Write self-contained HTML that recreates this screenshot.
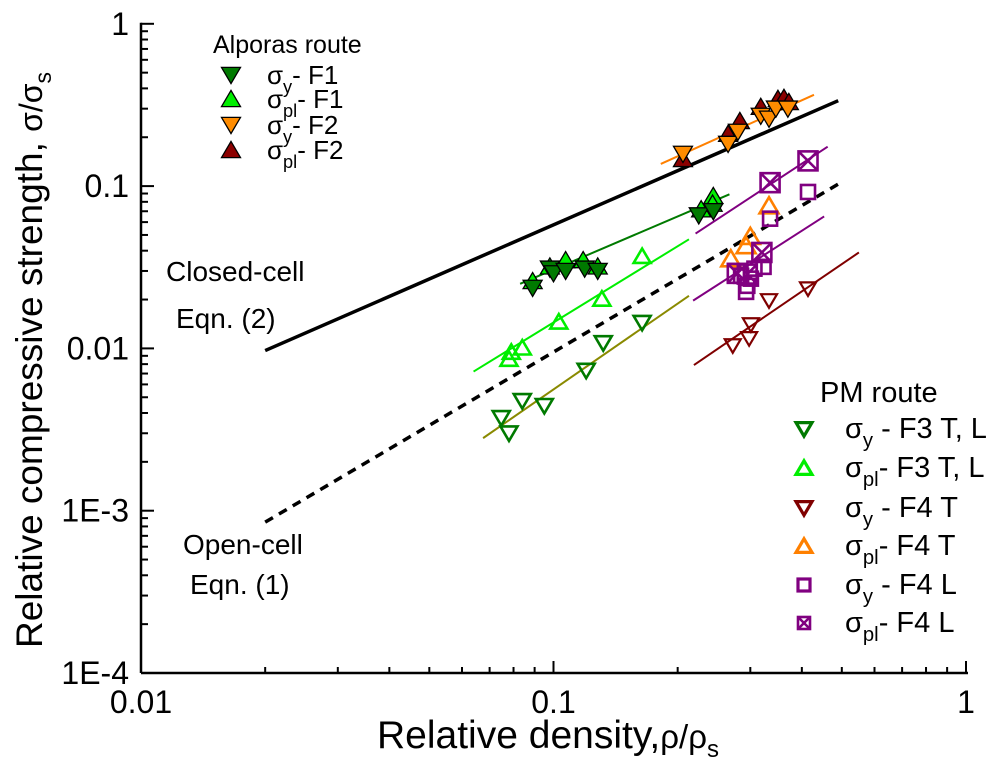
<!DOCTYPE html>
<html><head><meta charset="utf-8"><style>
html,body{margin:0;padding:0;background:#fff;}
svg{display:block;font-family:"Liberation Sans",Arial,sans-serif;}
</style></head><body>
<svg id="chart" width="1000" height="770" viewBox="0 0 1000 770"></svg>
<script>
// ---- data ----
const xTickLabels = ["0.01","0.1","1"];
const xTickValues = [0.01,0.1,1];
const yTickLabels = ["1E-4","1E-3","0.01","0.1","1"];
const yTickValues = [1e-4,1e-3,1e-2,0.1,1];

const f1SyX = [0.089,0.098,0.100,0.107,0.119,0.128,0.225,0.244];
const f1SyY = [0.0236,0.031,0.029,0.030,0.031,0.030,0.066,0.070];
const f1SplX = [0.089,0.098,0.107,0.118,0.128,0.228,0.244,0.243];
const f1SplY = [0.026,0.032,0.035,0.035,0.032,0.072,0.087,0.078];
const f2SyX = [0.206,0.265,0.280,0.318,0.333,0.346,0.370];
const f2SyY = [0.158,0.182,0.216,0.271,0.260,0.300,0.300];
const f2SplX = [0.206,0.265,0.283,0.318,0.350,0.362,0.372];
const f2SplY = [0.147,0.210,0.252,0.308,0.345,0.350,0.330];
const f3SyX = [0.0747,0.078,0.084,0.095,0.120,0.132,0.164];
const f3SyY = [0.00373,0.0030,0.00475,0.00443,0.0073,0.0108,0.0144];
const f3SplX = [0.078,0.079,0.084,0.103,0.131,0.164];
const f3SplY = [0.0086,0.0095,0.0101,0.0146,0.0202,0.037];
const f4TSyX = [0.272,0.298,0.301,0.333,0.414];
const f4TSyY = [0.0104,0.0115,0.0140,0.0197,0.0233];
const f4TSplX = [0.269,0.293,0.300,0.333];
const f4TSplY = [0.0357,0.043,0.049,0.0757];
const f4LSyX = [0.285,0.293,0.295,0.301,0.307,0.323,0.335,0.414];
const f4LSyY = [0.028,0.0223,0.0243,0.0269,0.031,0.0318,0.063,0.092];
const f4LSplX = [0.279,0.295,0.320,0.335,0.414];
const f4LSplY = [0.029,0.0287,0.039,0.105,0.143];

const closedLineX = [0.02,0.49]; const closedLineY = [0.0097,0.336];
const openLineX = [0.02,0.5]; const openLineY = [0.00085,0.106];
const fitF1X = [0.083,0.267]; const fitF1Y = [0.025,0.089];
const fitF2X = [0.182,0.428]; const fitF2Y = [0.137,0.365];
const fitF3plX = [0.064,0.213]; const fitF3plY = [0.0072,0.047];
const fitF3yX = [0.0675,0.213]; const fitF3yY = [0.0028,0.0211];
const fitF4upX = [0.221,0.462]; const fitF4upY = [0.051,0.175];
const fitF4loX = [0.218,0.453]; const fitF4loY = [0.0197,0.065];
const fitF4TX = [0.219,0.55]; const fitF4TY = [0.0079,0.039];

// ---- axes ----
const X0=141, XD=412.5, Y0=673, YD=162.3;
const sx = v => X0 + XD*(Math.log10(v)+2);
const sy = v => Y0 - YD*(Math.log10(v)+4);
const svg = document.getElementById('chart');
const NS='http://www.w3.org/2000/svg';
function mk(tag, attrs, parent){
  const e=document.createElementNS(NS,tag);
  for(const k in attrs) e.setAttribute(k,attrs[k]);
  (parent||svg).appendChild(e); return e;
}
function txt(x,y,s,size,anchor,name,parent){
  const t=mk('text',{x:x,y:y,'font-size':size,'text-anchor':anchor||'start',fill:'#000'},parent);
  t.textContent=s;
  
  
  return t;
}
const axes = mk('g',{});


mk('line',{x1:X0,y1:Y0,x2:sx(1)+2,y2:Y0,stroke:'#000','stroke-width':2.5},axes);
mk('line',{x1:X0,y1:Y0,x2:X0,y2:sy(1)-1,stroke:'#000','stroke-width':2.5},axes);
for(let d=-2; d<0; d++){
  for(let m=2;m<=9;m++){
    const x=sx(m*Math.pow(10,d));
    mk('line',{x1:x,y1:Y0,x2:x,y2:Y0-6,stroke:'#000','stroke-width':2},axes);
  }
}
xTickValues.forEach((v,i)=>{
  const x=sx(v);
  mk('line',{x1:x,y1:Y0,x2:x,y2:Y0-12,stroke:'#000','stroke-width':2},axes);
  txt(x,Y0+40,xTickLabels[i],32,'middle','x-tick-label',axes);
});
for(let d=-4; d<0; d++){
  for(let m=2;m<=9;m++){
    const y=sy(m*Math.pow(10,d));
    mk('line',{x1:X0,y1:y,x2:X0+7,y2:y,stroke:'#000','stroke-width':2},axes);
  }
}
yTickValues.forEach((v,i)=>{
  const y=sy(v);
  mk('line',{x1:X0,y1:y,x2:X0+13,y2:y,stroke:'#000','stroke-width':2},axes);
  txt(X0-12,y+11,yTickLabels[i],32,'end','y-tick-label',axes);
});
const xt = txt(548,748,'',39,'middle','x-axis-title');
xt.innerHTML='Relative density,<tspan font-size="33">ρ/ρ</tspan><tspan font-size="24" dy="9">s</tspan>';
const yt = txt(0,0,'',37,'middle','y-axis-title');
yt.setAttribute('transform','translate(42,360) rotate(-90)');
yt.innerHTML='Relative compressive strength, <tspan font-size="32">σ/σ</tspan><tspan font-size="23" dy="9">s</tspan>';

// ---- lines ----
function line(xs,ys,color,w,name,dash){
  const l=mk('line',{x1:sx(xs[0]),y1:sy(ys[0]),x2:sx(xs[1]),y2:sy(ys[1]),stroke:color,'stroke-width':w});
  if(dash) l.setAttribute('stroke-dasharray',dash);
  
  
}
line(closedLineX,closedLineY,'#000',3.5,'closed-cell-line');
line(openLineX,openLineY,'#000',3.5,'open-cell-line','9,7');
line(fitF1X,fitF1Y,'#007a00',2,'fit-f1');
line(fitF2X,fitF2Y,'#ff8000',2,'fit-f2');
line(fitF3plX,fitF3plY,'#00ee00',2,'fit-f3-pl');
line(fitF3yX,fitF3yY,'#8a8a00',2,'fit-f3-y');
line(fitF4upX,fitF4upY,'#800080',2,'fit-f4-l-upper');
line(fitF4loX,fitF4loY,'#800080',2,'fit-f4-l-lower');
line(fitF4TX,fitF4TY,'#800000',2,'fit-f4-t');

// ---- markers ----
function marker(g,x,y,type,fill,stroke,sw,s){
  const h=s/2;
  if(type==='down') mk('polygon',{points:`${x-h},${y-h*0.8} ${x+h},${y-h*0.8} ${x},${y+h*0.9}`,fill:fill,stroke:stroke,'stroke-width':sw,'stroke-linejoin':'miter'},g);
  else if(type==='up') mk('polygon',{points:`${x-h},${y+h*0.8} ${x+h},${y+h*0.8} ${x},${y-h*0.9}`,fill:fill,stroke:stroke,'stroke-width':sw},g);
  else {
    mk('rect',{x:x-h,y:y-h,width:s,height:s,fill:fill,stroke:stroke,'stroke-width':sw},g);
    if(type==='xsq'){
      mk('line',{x1:x-h,y1:y-h,x2:x+h,y2:y+h,stroke:stroke,'stroke-width':sw},g);
      mk('line',{x1:x+h,y1:y-h,x2:x-h,y2:y+h,stroke:stroke,'stroke-width':sw},g);
    }
  }
}
function series(xs,ys,type,fill,stroke,sw,s,name){
  const g=mk('g',{});
  
  
  xs.forEach((v,i)=>{ marker(g,sx(v),sy(ys[i]),type,fill,stroke,sw,s); });
}
series(f2SplX,f2SplY,'up','#8b0000','#000',1.3,19,'series-f2-spl');
series(f2SyX,f2SyY,'down','#ff8c00','#000',1.3,19,'series-f2-sy');
series(f1SplX,f1SplY,'up','#00ee00','#000',1.3,19,'series-f1-spl');
series(f1SyX,f1SyY,'down','#007a00','#000',1.3,19,'series-f1-sy');
series(f3SyX,f3SyY,'down','none','#007a00',2.6,17,'series-f3-sy');
series(f3SplX,f3SplY,'up','none','#00ee00',2.6,17,'series-f3-spl');
series(f4TSyX,f4TSyY,'down','none','#800000',2.2,16,'series-f4t-sy');
series(f4TSplX,f4TSplY,'up','none','#ff8000',2.6,19,'series-f4t-spl');
series(f4LSyX,f4LSyY,'sq','none','#800080',2.6,14,'series-f4l-sy');
series(f4LSplX,f4LSplY,'xsq','none','#800080',2.6,19,'series-f4l-spl');

// ---- annotations ----
txt(166,281,'Closed-cell',28,'start','closed-cell-label');
txt(176,328,'Eqn. (2)',28,'start','closed-cell-eqn');
txt(183,554,'Open-cell',28,'start','open-cell-label');
txt(190,594,'Eqn. (1)',28,'start','open-cell-eqn');

// ---- legends ----
function legendEntry(g,mx,my,type,fill,stroke,sw,s,tx,sub,rest,name,fs){
  const eg=mk('g',{},g);
  
  
  marker(eg,mx,my,type,fill,stroke,sw,s);
  const t=mk('text',{x:tx,y:my+9,'font-size':fs,fill:'#000'},eg);
  t.innerHTML=`σ<tspan font-size="${fs*0.7}" dy="9">${sub}</tspan><tspan dy="-9">${rest}</tspan>`;
}
const lgA=mk('g',{});


txt(213,53,'Alporas route',25,'start','legend-alporas-title',lgA);
legendEntry(lgA,231,75,'down','#007a00','#000',1.3,19,267,'y','-  F1','legend-entry-f1-sy',26);
legendEntry(lgA,231,99,'up','#00ee00','#000',1.3,19,267,'pl','- F1','legend-entry-f1-spl',26);
legendEntry(lgA,231,125,'down','#ff8c00','#000',1.3,19,267,'y','-  F2','legend-entry-f2-sy',26);
legendEntry(lgA,231,150,'up','#8b0000','#000',1.3,19,267,'pl','- F2','legend-entry-f2-spl',26);

const lgP=mk('g',{});


txt(820,402,'PM route',29,'start','legend-pm-title',lgP);
legendEntry(lgP,804,429,'down','none','#007a00',3.2,16,845,'y',' - F3 T, L','legend-entry-f3-sy',29);
legendEntry(lgP,804,468,'up','none','#00ee00',3.2,16,845,'pl','- F3 T, L','legend-entry-f3-spl',29);
legendEntry(lgP,804,508,'down','none','#800000',3.2,16,845,'y',' - F4 T','legend-entry-f4t-sy',29);
legendEntry(lgP,804,546,'up','none','#ff8000',3.2,16,845,'pl','- F4 T','legend-entry-f4t-spl',29);
legendEntry(lgP,804,585,'sq','none','#800080',3.2,12,845,'y',' - F4 L','legend-entry-f4l-sy',29);
legendEntry(lgP,804,623,'xsq','none','#800080',2.6,12,845,'pl','- F4 L','legend-entry-f4l-spl',29);
</script>
</body></html>
